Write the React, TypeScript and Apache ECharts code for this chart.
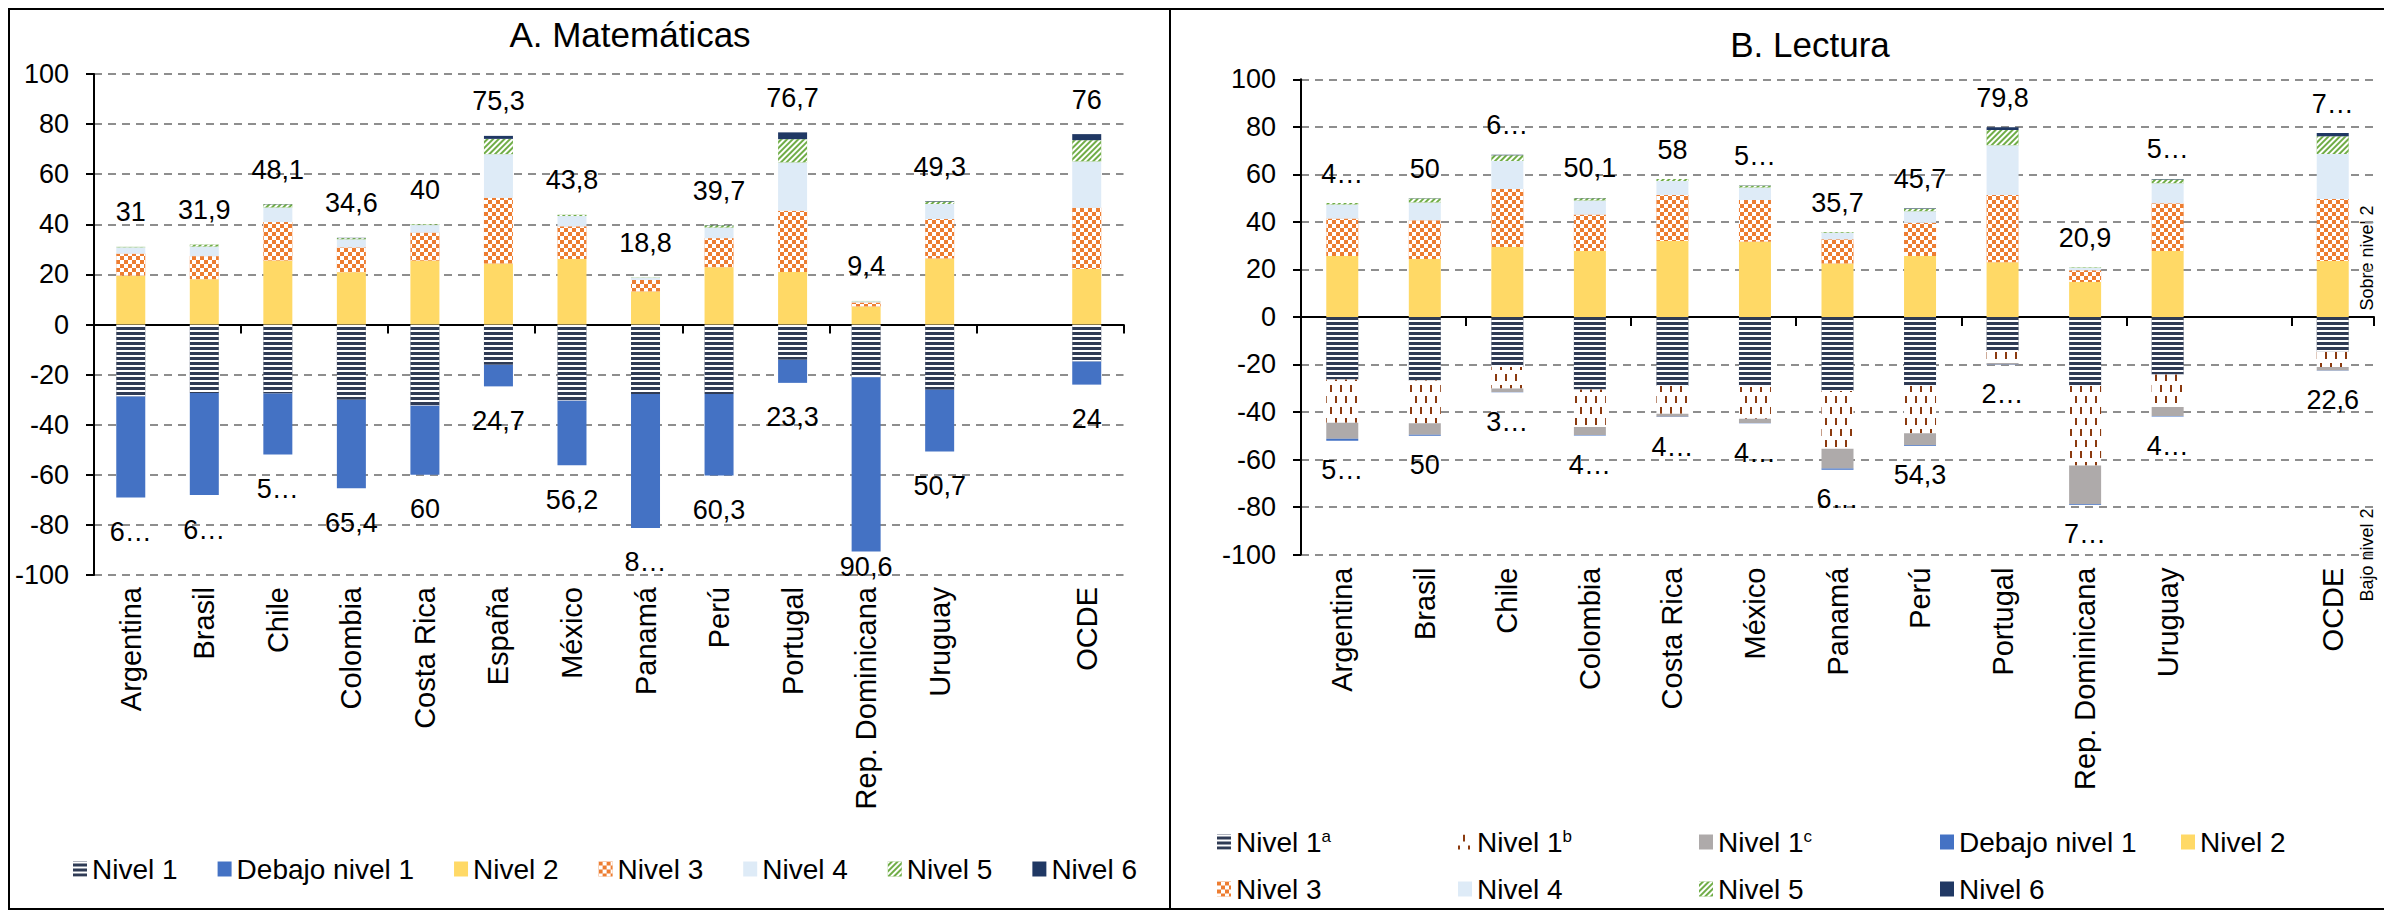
import React, { useEffect, useRef } from 'react';
import * as echarts from 'echarts';

// ---------- Data: A. Matemáticas ----------
const MATH_CATEGORIES = ['Argentina', 'Brasil', 'Chile', 'Colombia', 'Costa Rica', 'España', 'México', 'Panamá', 'Perú', 'Portugal', 'Rep. Dominicana', 'Uruguay', '', 'OCDE'];
const MATH_NIVEL1 = [-28.7, -27.3, -27.5, -30.0, -32.4, -16.1, -30.4, -27.7, -27.7, -14.1, -21.1, -26.0, null, -14.8];
const MATH_DEBAJO1 = [-40.4, -40.8, -24.4, -35.4, -27.6, -8.6, -25.8, -53.5, -32.6, -9.2, -69.5, -24.7, null, -9.2];
const MATH_NIVEL2 = [19.5, 18.1, 25.5, 20.9, 25.5, 24.4, 26.1, 13.2, 22.9, 21.0, 7.2, 26.3, null, 22.2];
const MATH_NIVEL3 = [8.8, 9.2, 15.4, 9.9, 11.2, 26.2, 13.1, 4.6, 11.6, 24.4, 1.6, 15.8, null, 24.4];
const MATH_NIVEL4 = [2.5, 3.8, 5.8, 3.2, 3.0, 17.4, 4.1, 0.9, 4.2, 19.3, 0.5, 6.0, null, 18.5];
const MATH_NIVEL5 = [0.2, 0.8, 1.3, 0.5, 0.3, 6.1, 0.5, 0.1, 0.9, 9.3, 0.1, 1.0, null, 8.5];
const MATH_NIVEL6 = [0.0, 0.0, 0.1, 0.1, 0.0, 1.2, 0.0, 0.0, 0.1, 2.7, 0.0, 0.2, null, 2.4];
const MATH_TOP_TRUNCATED: number[] = [];
const MATH_BOTTOM_TRUNCATED = [0, 1, 2, 7];

// ---------- Data: B. Lectura ----------
const READ_CATEGORIES = ['Argentina', 'Brasil', 'Chile', 'Colombia', 'Costa Rica', 'México', 'Panamá', 'Perú', 'Portugal', 'Rep. Dominicana', 'Uruguay', '', 'OCDE'];
const READ_NIVEL1A = [-26.3, -26.7, -21.1, -30.5, -29.1, -29.5, -31.2, -29.1, -14.3, -29.1, -24.2, null, -14.6];
const READ_NIVEL1B = [-18.2, -18.0, -9.0, -15.8, -11.6, -13.3, -24.3, -19.8, -5.1, -33.4, -13.7, null, -6.5];
const READ_NIVEL1C = [-6.8, -4.9, -1.5, -3.4, -1.3, -1.8, -8.3, -5.1, -0.7, -16.3, -3.8, null, -1.4];
const READ_DEBAJO1 = [-0.8, -0.4, -0.1, -0.2, -0.1, -0.1, -0.5, -0.3, -0.1, -0.3, -0.2, null, -0.1];
const READ_NIVEL2 = [25.6, 24.4, 29.4, 27.7, 32.0, 31.6, 22.5, 25.6, 23.0, 14.7, 27.8, null, 23.5];
const READ_NIVEL3 = [15.8, 16.3, 24.4, 15.4, 19.3, 17.6, 10.2, 14.0, 28.3, 5.0, 20.0, null, 26.1];
const READ_NIVEL4 = [5.9, 7.5, 11.8, 5.9, 5.9, 5.3, 2.7, 4.9, 21.0, 1.0, 8.5, null, 19.0];
const READ_NIVEL5 = [0.6, 1.6, 2.4, 1.0, 0.8, 0.7, 0.3, 1.0, 6.4, 0.2, 1.5, null, 7.4];
const READ_NIVEL6 = [0.0, 0.2, 0.3, 0.1, 0.0, 0.1, 0.0, 0.2, 1.1, 0.0, 0.3, null, 1.4];
const READ_TOP_TRUNCATED = [0, 2, 5, 10, 12];
const READ_BOTTOM_TRUNCATED = [0, 2, 3, 4, 5, 6, 8, 9, 10];

const Y_MIN = -100;
const Y_MAX = 100;
const Y_STEP = 20;

// ---------- Styles ----------
const FONT = '"Liberation Sans", Arial, sans-serif';

const STYLE: Record<string, any> = {
  nivel1: { color: '#2F3B55', decal: { symbol: 'rect', symbolSize: 1, color: '#ffffff', dashArrayX: [1, 0], dashArrayY: [2, 3] } },
  nivel1b: { color: '#ffffff', decal: { symbol: 'rect', symbolSize: 1, color: '#8B3A0F', dashArrayX: [[2, 8], [0, 5, 2, 3]], dashArrayY: [7, 4] } },
  nivel1c: { color: '#AEAAAA' },
  debajo: { color: '#4472C4' },
  nivel2: { color: '#FFD966' },
  nivel3: { color: '#ED7D31', decal: { symbol: 'rect', symbolSize: 1, color: '#ffffff', dashArrayX: [[4, 4], [0, 4, 4, 0]], dashArrayY: [4, 0] } },
  nivel4: { color: '#DEEBF7' },
  nivel5: { color: '#70AD47', decal: { symbol: 'rect', symbolSize: 1, color: '#ffffff', dashArrayX: [1, 0], dashArrayY: [2, 2], rotation: -Math.PI / 4 } },
  nivel6: { color: '#203864' },
};

// label distance tweaks (style only), keyed by category name
const MATH_BOTTOM_LABEL_DISTANCE: Record<string, number> = { 'Rep. Dominicana': 2 };

const fmt = (v: number) => String(Math.round(v * 10) / 10).replace('.', ',');

function sumAt(arrs: (number | null)[][], i: number) {
  let s = 0;
  for (const a of arrs) s += a[i] == null ? 0 : (a[i] as number);
  return s;
}

function makePanelSeries(
  panel: number,
  cats: string[],
  negList: { name: string; data: (number | null)[]; style: any }[],
  posList: { name: string; data: (number | null)[]; style: any }[],
  topTrunc: number[],
  bottomTrunc: number[],
  barWidth: number,
  topDistance: number,
  bottomDistance: number,
  bottomDistanceOverrides: Record<string, number>,
) {
  const negArrs = negList.map((s) => s.data);
  const posArrs = posList.map((s) => s.data);
  const labelBase = { show: true, fontSize: 27, color: '#000', fontFamily: FONT };
  const truncLabel = { width: 45, overflow: 'truncate', ellipsis: '…' };
  const all = [...negList, ...posList];
  return all.map((s, k) => {
    const isTop = k === all.length - 1;
    const isBottom = k === negList.length - 1;
    const trunc = isTop ? topTrunc : isBottom ? bottomTrunc : [];
    const data = s.data.map((v, i) => {
      if (v == null) return null;
      let itemLabel: any = null;
      if (trunc.includes(i)) itemLabel = { ...truncLabel };
      if (isBottom && bottomDistanceOverrides[cats[i]] != null) {
        itemLabel = { ...(itemLabel || {}), distance: bottomDistanceOverrides[cats[i]] };
      }
      return itemLabel ? { value: v, label: itemLabel } : v;
    });
    let label: any = { show: false };
    if (isTop) {
      label = {
        ...labelBase,
        position: 'top',
        distance: topDistance,
        formatter: (p: any) => fmt(sumAt(posArrs, p.dataIndex)),
      };
    } else if (isBottom) {
      label = {
        ...labelBase,
        position: 'bottom',
        distance: bottomDistance,
        formatter: (p: any) => fmt(-sumAt(negArrs, p.dataIndex)),
      };
    }
    return {
      name: s.name,
      type: 'bar',
      stack: 'panel' + panel,
      xAxisIndex: panel * 2,
      yAxisIndex: panel,
      barWidth,
      itemStyle: s.style,
      emphasis: { disabled: true },
      label,
      data,
    };
  });
}

function buildOption() {
  const axisBlack = { color: '#000', width: 2 };
  const gridLine = { type: [8, 6], color: '#8E8E8E', width: 2 };

  const xAxes: any[] = [];
  const yAxes: any[] = [];
  [MATH_CATEGORIES, READ_CATEGORIES].forEach((cats, g) => {
    xAxes.push({
      gridIndex: g,
      type: 'category',
      data: cats,
      position: 'bottom',
      axisLine: { show: true, onZero: true, lineStyle: axisBlack },
      axisTick: { show: true, length: 9, lineStyle: axisBlack },
      axisLabel: { show: false },
      splitLine: { show: false },
    });
    xAxes.push({
      gridIndex: g,
      type: 'category',
      data: cats,
      position: 'bottom',
      axisLine: { show: false, onZero: false },
      axisTick: { show: false },
      axisLabel: {
        show: true,
        rotate: 90,
        interval: 0,
        fontSize: 29,
        color: '#000',
        fontFamily: FONT,
        margin: g === 0 ? 12 : 13,
      },
      splitLine: { show: false },
    });
    yAxes.push({
      gridIndex: g,
      type: 'value',
      min: Y_MIN,
      max: Y_MAX,
      interval: Y_STEP,
      axisLine: { show: true, lineStyle: axisBlack },
      axisTick: { show: true, length: 8, lineStyle: axisBlack },
      axisLabel: { fontSize: 27, color: '#000', fontFamily: FONT, margin: 25 },
      splitLine: { show: true, lineStyle: gridLine },
    });
  });

  const mathSeries = makePanelSeries(
    0,
    MATH_CATEGORIES,
    [
      { name: 'Nivel 1', data: MATH_NIVEL1, style: STYLE.nivel1 },
      { name: 'Debajo nivel 1', data: MATH_DEBAJO1, style: STYLE.debajo },
    ],
    [
      { name: 'Nivel 2', data: MATH_NIVEL2, style: STYLE.nivel2 },
      { name: 'Nivel 3', data: MATH_NIVEL3, style: STYLE.nivel3 },
      { name: 'Nivel 4', data: MATH_NIVEL4, style: STYLE.nivel4 },
      { name: 'Nivel 5', data: MATH_NIVEL5, style: STYLE.nivel5 },
      { name: 'Nivel 6', data: MATH_NIVEL6, style: STYLE.nivel6 },
    ],
    MATH_TOP_TRUNCATED,
    MATH_BOTTOM_TRUNCATED,
    29,
    21,
    21,
    MATH_BOTTOM_LABEL_DISTANCE,
  );

  const readSeries = makePanelSeries(
    1,
    READ_CATEGORIES,
    [
      { name: 'Nivel 1a', data: READ_NIVEL1A, style: STYLE.nivel1 },
      { name: 'Nivel 1b', data: READ_NIVEL1B, style: STYLE.nivel1b },
      { name: 'Nivel 1c', data: READ_NIVEL1C, style: STYLE.nivel1c },
      { name: 'Debajo nivel 1', data: READ_DEBAJO1, style: STYLE.debajo },
    ],
    [
      { name: 'Nivel 2', data: READ_NIVEL2, style: STYLE.nivel2 },
      { name: 'Nivel 3', data: READ_NIVEL3, style: STYLE.nivel3 },
      { name: 'Nivel 4', data: READ_NIVEL4, style: STYLE.nivel4 },
      { name: 'Nivel 5', data: READ_NIVEL5, style: STYLE.nivel5 },
      { name: 'Nivel 6', data: READ_NIVEL6, style: STYLE.nivel6 },
    ],
    READ_TOP_TRUNCATED,
    READ_BOTTOM_TRUNCATED,
    32,
    16,
    16,
    {},
  );

  const legendText = { fontSize: 28, lineHeight: 28, color: '#000', fontFamily: FONT };

  return {
    animation: false,
    backgroundColor: '#ffffff',
    textStyle: { fontFamily: FONT },
    grid: [
      { left: 94, top: 74, width: 1029.5, height: 501, containLabel: false, outerBoundsMode: 'none' },
      { left: 1301, top: 79.3, width: 1073, height: 475.3, containLabel: false, outerBoundsMode: 'none' },
    ],
    xAxis: xAxes,
    yAxis: yAxes,
    legend: [
      {
        data: ['Nivel 1', 'Debajo nivel 1', 'Nivel 2', 'Nivel 3', 'Nivel 4', 'Nivel 5', 'Nivel 6'],
        left: 68,
        top: 850,
        icon: 'rect',
        itemWidth: 14,
        itemHeight: 15,
        itemGap: 40,
        selectedMode: false,
        textStyle: legendText,
      },
      {
        data: ['Nivel 1a', 'Nivel 1b', 'Nivel 1c', 'Debajo nivel 1', 'Nivel 2', 'Nivel 3', 'Nivel 4', 'Nivel 5', 'Nivel 6'],
        left: 1212,
        top: 823,
        width: 1190,
        icon: 'rect',
        itemWidth: 14,
        itemHeight: 15,
        itemGap: 19,
        selectedMode: false,
        formatter: (name: string) => {
          const m = name.match(/^Nivel 1([abc])$/);
          return m ? '{n|Nivel 1}{s|' + m[1] + '}' : '{n|' + name + '}';
        },
        textStyle: {
          ...legendText,
          width: 203,
          rich: {
            n: { fontSize: 28, lineHeight: 28, color: '#000', fontFamily: FONT },
            s: { fontSize: 17, lineHeight: 17, color: '#000', fontFamily: FONT, verticalAlign: 'top' },
          },
        },
      },
    ],
    graphic: [
      { type: 'rect', silent: true, shape: { x: 9, y: 9, width: 1161, height: 900 }, style: { fill: 'none', stroke: '#000', lineWidth: 2 } },
      { type: 'rect', silent: true, shape: { x: 1170, y: 9, width: 1230, height: 900 }, style: { fill: 'none', stroke: '#000', lineWidth: 2 } },
      {
        type: 'text', x: 630, y: 34, silent: true,
        style: { text: 'A. Matemáticas', fontSize: 35, fontFamily: FONT, fill: '#000', textAlign: 'center', textVerticalAlign: 'middle', align: 'center', verticalAlign: 'middle' },
      },
      {
        type: 'text', x: 1810, y: 44, silent: true,
        style: { text: 'B. Lectura', fontSize: 35, fontFamily: FONT, fill: '#000', textAlign: 'center', textVerticalAlign: 'middle', align: 'center', verticalAlign: 'middle' },
      },
      {
        type: 'text', x: 2367, y: 258, rotation: Math.PI / 2, silent: true,
        style: { text: 'Sobre nivel 2', fontSize: 18, fontFamily: FONT, fill: '#000', textAlign: 'center', textVerticalAlign: 'middle', align: 'center', verticalAlign: 'middle' },
      },
      {
        type: 'text', x: 2367, y: 555, rotation: Math.PI / 2, silent: true,
        style: { text: 'Bajo nivel 2', fontSize: 18, fontFamily: FONT, fill: '#000', textAlign: 'center', textVerticalAlign: 'middle', align: 'center', verticalAlign: 'middle' },
      },
    ],
    series: [...mathSeries, ...readSeries],
  };
}

export default function App() {
  const ref = useRef<HTMLDivElement>(null);
  useEffect(() => {
    document.body.style.margin = '0';
    document.body.style.overflow = 'hidden';
    const chart = echarts.init(ref.current as HTMLDivElement, null, { renderer: 'svg' });
    chart.setOption(buildOption() as any);
    return () => {
      chart.dispose();
    };
  }, []);
  return <div ref={ref} style={{ width: 2384, height: 912, background: '#fff' }} />;
}
